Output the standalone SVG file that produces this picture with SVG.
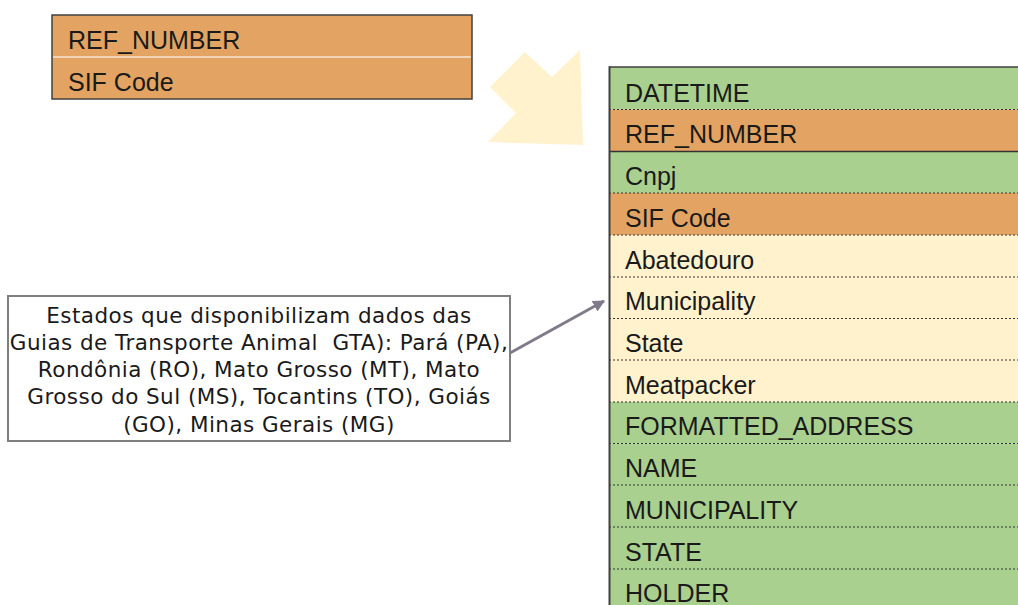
<svg xmlns="http://www.w3.org/2000/svg" width="1018" height="605" viewBox="0 0 1018 605">
<style>
  .t { font-family: "Liberation Sans", Arial, sans-serif; font-size: 25px; fill: #1a1a1a; }
  .c { font-family: "DejaVu Sans", "Liberation Sans", sans-serif; font-size: 21.5px; letter-spacing: 0.45px; fill: #1a1a1a; text-anchor: middle; white-space: pre; }
  .g { fill: #A9D08E; }
  .o { fill: #E3A463; }
  .y { fill: #FFF2CC; }
  .dot { stroke: #333; stroke-width: 1; stroke-dasharray: 2 2; }
</style>
<defs>
  <marker id="ah" viewBox="0 0 10 10" refX="9" refY="5" markerWidth="4" markerHeight="4" orient="auto" markerUnits="strokeWidth">
    <path d="M0,0 L10,5 L0,10 z" fill="#807A8A"/>
  </marker>
</defs>
<rect width="1018" height="605" fill="#fff"/>

<g id="source-table">
  <rect x="52" y="15" width="420" height="84" class="o" stroke="#404040" stroke-width="1.5"/>
  <line x1="53" y1="57" x2="471" y2="57" stroke="#F8E3D0" stroke-width="1.5"/>
  <text x="68" y="49" class="t">REF_NUMBER</text>
  <text x="68" y="91" class="t">SIF Code</text>
</g>

<g id="big-arrow">
  <polygon points="490,87 525,52 552,77 580,50 583,145 488,142 516,113" fill="#FFF2CC"/>
</g>

<g id="target-table">
  <rect x="609" y="67" width="420" height="42.5" class="g"/>
  <rect x="609" y="109.5" width="420" height="41.5" class="o"/>
  <rect x="609" y="151" width="420" height="42" class="g"/>
  <rect x="609" y="193" width="420" height="42" class="o"/>
  <rect x="609" y="235" width="420" height="42" class="y"/>
  <rect x="609" y="277" width="420" height="41" class="y"/>
  <rect x="609" y="318" width="420" height="42" class="y"/>
  <rect x="609" y="360" width="420" height="42" class="y"/>
  <rect x="609" y="402" width="420" height="41.5" class="g"/>
  <rect x="609" y="443.5" width="420" height="41.5" class="g"/>
  <rect x="609" y="485" width="420" height="42" class="g"/>
  <rect x="609" y="527" width="420" height="42" class="g"/>
  <rect x="609" y="569" width="420" height="42" class="g"/>
  <line x1="609" y1="109.5" x2="1018" y2="109.5" class="dot"/>
  <line x1="609" y1="151.5" x2="1018" y2="151.5" stroke="#333" stroke-width="1.5"/>
  <line x1="609" y1="193" x2="1018" y2="193" class="dot"/>
  <line x1="609" y1="235" x2="1018" y2="235" class="dot"/>
  <line x1="609" y1="277" x2="1018" y2="277" class="dot"/>
  <line x1="609" y1="318.5" x2="1018" y2="318.5" class="dot"/>
  <line x1="609" y1="360" x2="1018" y2="360" class="dot"/>
  <line x1="609" y1="402" x2="1018" y2="402" class="dot"/>
  <line x1="609" y1="443.5" x2="1018" y2="443.5" class="dot"/>
  <line x1="609" y1="485" x2="1018" y2="485" class="dot"/>
  <line x1="609" y1="527" x2="1018" y2="527" class="dot"/>
  <line x1="609" y1="569" x2="1018" y2="569" class="dot"/>
  <line x1="609" y1="67" x2="1018" y2="67" stroke="#404040" stroke-width="1.5"/>
  <line x1="609.5" y1="66.3" x2="609.5" y2="605" stroke="#404040" stroke-width="2"/>
  <text x="625" y="101.5" class="t">DATETIME</text>
  <text x="625" y="143" class="t">REF_NUMBER</text>
  <text x="625" y="185" class="t">Cnpj</text>
  <text x="625" y="226.5" class="t">SIF Code</text>
  <text x="625" y="268.5" class="t">Abatedouro</text>
  <text x="625" y="310" class="t">Municipality</text>
  <text x="625" y="352" class="t">State</text>
  <text x="625" y="393.5" class="t">Meatpacker</text>
  <text x="625" y="435" class="t">FORMATTED_ADDRESS</text>
  <text x="625" y="477" class="t">NAME</text>
  <text x="625" y="518.5" class="t">MUNICIPALITY</text>
  <text x="625" y="560.5" class="t">STATE</text>
  <text x="625" y="601.5" class="t">HOLDER</text>
</g>

<g id="callout">
  <rect x="8" y="296" width="502" height="145" fill="#fff" stroke="#7F7F7F" stroke-width="2"/>
  <text x="259" y="323" class="c">Estados que disponibilizam dados das</text>
  <text x="259" y="350" class="c">Guias de Transporte Animal  GTA): Pará (PA),</text>
  <text x="259" y="377" class="c">Rondônia (RO), Mato Grosso (MT), Mato</text>
  <text x="259" y="404" class="c">Grosso do Sul (MS), Tocantins (TO), Goiás</text>
  <text x="259" y="432" class="c">(GO), Minas Gerais (MG)</text>
</g>

<g id="connectors">
  <line x1="510" y1="353" x2="604" y2="301" stroke="#807A8A" stroke-width="3" marker-end="url(#ah)"/>
</g>
</svg>
